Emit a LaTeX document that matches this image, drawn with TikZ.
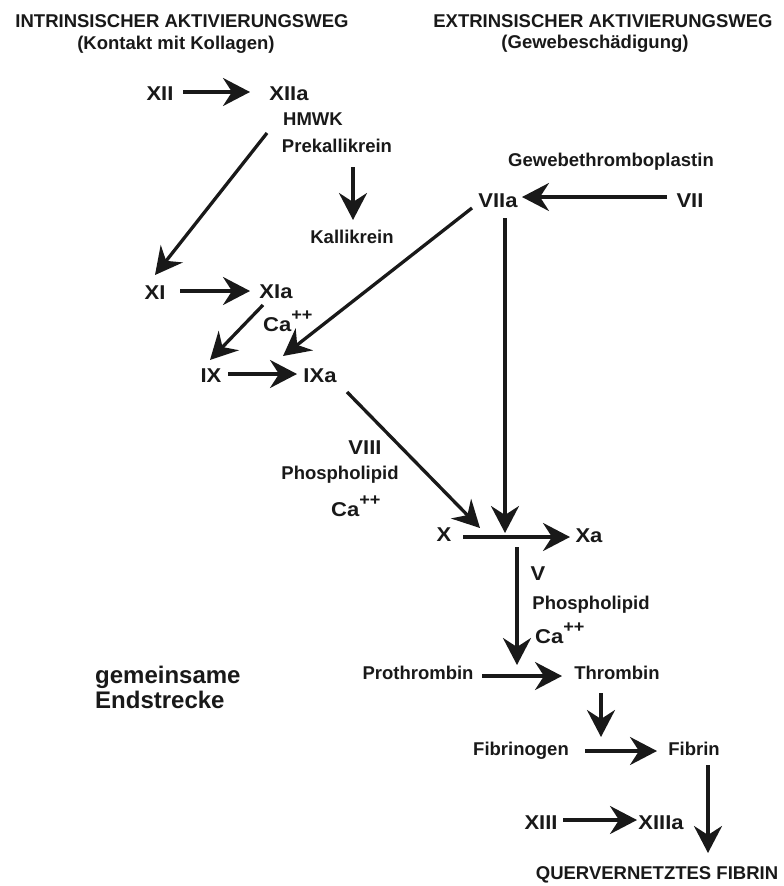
\documentclass[tikz,border=0pt]{standalone}
\usepackage{fontspec}
\setmainfont{Liberation Sans}
\newfontfamily\widefont{Liberation Sans}[FakeStretch=1.1]
\usetikzlibrary{arrows.meta}
\definecolor{ink}{gray}{0.1}
\tikzset{
  lab/.style={font=\bfseries\fontsize{18.5}{20}\selectfont, text=ink, inner sep=0pt, text height=13.3pt, text depth=0pt},
  num/.style={font=\widefont\bfseries\fontsize{20}{22}\selectfont, text=ink, inner sep=0pt, text height=14.3pt, text depth=0pt},
  calab/.style={num, anchor=west},
  biglab/.style={font=\bfseries\fontsize{24}{26}\selectfont, text=ink, inner sep=0pt, text height=17.2pt, text depth=0pt, anchor=west},
  arr/.style={draw=ink, line width=3.3pt, -{Stealth[length=27pt, width=28pt, inset=9pt]}},
}
\newcommand{\caplus}{Ca\raisebox{10.5pt}{\fontsize{16.5}{16.5}\selectfont ++}}
\begin{document}
\begin{tikzpicture}[x=1pt, y=-1pt]
\fill[white] (0,0) rectangle (784,886);
\path[use as bounding box] (0,0) rectangle (784,886);

% headings
\node[lab] (t1) at (182,21) {INTRINSISCHER AKTIVIERUNGSWEG};
\node[lab] (t1b) at (176,43) {(Kontakt mit Kollagen)};
\node[lab] (t2) at (603,21) {EXTRINSISCHER AKTIVIERUNGSWEG};
\node[lab] (t2b) at (595,42) {(Gewebeschädigung)};

% intrinsic pathway
\node[num] (XII) at (160,93) {XII};
\node[num] (XIIa) at (289,93) {XIIa};
\node[lab] (HMWK) at (313,119) {HMWK};
\node[lab] (Prek) at (337,146) {Prekallikrein};
\node[lab] (Kall) at (352,237) {Kallikrein};
\node[num] (XI) at (155,292) {XI};
\node[num] (XIa) at (276,291) {XIa};
\node[calab] (Ca1) at (263,324) {\caplus};
\node[num] (IX) at (211,375) {IX};
\node[num] (IXa) at (320,375) {IXa};
\node[num] (VIII) at (365,447) {VIII};
\node[lab] (PL1) at (340,473) {Phospholipid};
\node[calab] (Ca2) at (331,509) {\caplus};

% extrinsic pathway
\node[lab] (Gewebe) at (611,160) {Gewebethromboplastin};
\node[num] (VIIa) at (498,200) {VIIa};
\node[num] (VII) at (690,200) {VII};

% common pathway
\node[num] (X) at (444,534) {X};
\node[num] (Xa) at (589,535) {Xa};
\node[num] (V) at (538,573) {V};
\node[lab] (PL2) at (591,603) {Phospholipid};
\node[calab] (Ca3) at (535,636) {\caplus};
\node[lab] (Proth) at (418,673) {Prothrombin};
\node[lab] (Thromb) at (617,673) {Thrombin};
\node[lab] (Fbg) at (521,749) {Fibrinogen};
\node[lab] (Fib) at (694,749) {Fibrin};
\node[num] (XIII) at (541,822) {XIII};
\node[num] (XIIIa) at (661,822) {XIIIa};
\node[lab] (Quer) at (657,873) {QUERVERNETZTES FIBRIN};
\node[biglab] (gem) at (95,675) {gemeinsame};
\node[biglab] (end) at (95,700) {Endstrecke};

% arrows
\draw[arr] ([shift={(23,-1)}]XII.center) -- ([shift={(-39,-1)}]XIIa.center);
\draw[arr] ([shift={(16,21)}]Prek.center) -- ([shift={(1,-17)}]Kall.center);
\draw[arr] ([shift={(-22,40)}]XIIa.center) -- ([shift={(0,-17)}]XI.center);
\draw[arr] ([shift={(-23,-3)}]VII.center) -- ([shift={(24,-3)}]VIIa.center);
\draw[arr] ([shift={(-26,8)}]VIIa.center) -- ([shift={(-37,-19)}]IXa.center);
\draw[arr] ([shift={(7,18)}]VIIa.center) -- ([shift={(61,-1)}]X.center);
\draw[arr] ([shift={(25,-1)}]XI.center) -- ([shift={(-26,0)}]XIa.center);
\draw[arr] ([shift={(-13,14)}]XIa.center) -- ([shift={(-1,-15)}]IX.center);
\draw[arr] ([shift={(17,-1)}]IX.center) -- ([shift={(-23,-1)}]IXa.center);
\draw[arr] ([shift={(27,17)}]IXa.center) -- ([shift={(36,-6)}]X.center);
\draw[arr] ([shift={(19,3)}]X.center) -- ([shift={(-19,2)}]Xa.center);
\draw[arr] ([shift={(73,13)}]X.center) -- ([shift={(99,-8)}]Proth.center);
\draw[arr] ([shift={(64,3)}]Proth.center) -- ([shift={(-55,3)}]Thromb.center);
\draw[arr] ([shift={(-16,20)}]Thromb.center) -- ([shift={(80,-12)}]Fbg.center);
\draw[arr] ([shift={(64,2)}]Fbg.center) -- ([shift={(-37,2)}]Fib.center);
\draw[arr] ([shift={(14,16)}]Fib.center) -- ([shift={(51,-20)}]Quer.center);
\draw[arr] ([shift={(22,-2)}]XIII.center) -- ([shift={(-24,-2)}]XIIIa.center);
\end{tikzpicture}
\end{document}
